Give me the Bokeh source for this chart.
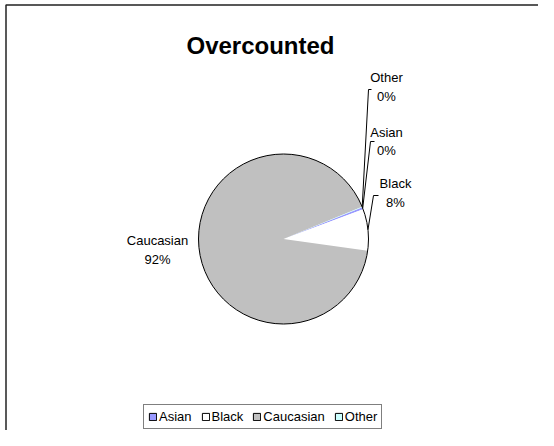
import numpy as np
from bokeh.plotting import figure
from bokeh.models import Range1d, Legend, LegendItem
from bokeh.core.properties import value
from bokeh.embed import file_html
from bokeh.resources import INLINE

# ---- data ----
title = "Overcounted"
categories = ["Asian", "Black", "Caucasian", "Other"]
shares = [0.4, 7.9, 91.6, 0.1]
colors = ["#9999FF", "#FFFFFF", "#C0C0C0", "#CCFFFF"]

FONT = "Liberation Sans"
W, H = 538, 430

p = figure(width=W, height=H, output_backend="svg", toolbar_location=None,
           x_range=Range1d(0, W), y_range=Range1d(0, H), min_border=0)
p.axis.visible = False
p.grid.visible = False
p.outline_line_color = None
p.background_fill_color = "white"
p.border_fill_color = "white"


def X(px):
    return px


def Y(py):
    return H - py


# chart area frame (left/top visible in reference)
p.line([X(5.5), X(5.5), W], [0, Y(4.5), Y(4.5)], line_color="#222222", line_width=1.5)

# ---- pie ----
cx, cy, r = X(283), Y(238.5), 85
start0 = np.deg2rad(22.0)
vals = np.array(shares, dtype=float)
ang = vals / vals.sum() * 2 * np.pi
ends = start0 - np.cumsum(ang)
starts = ends + ang
mids = (starts + ends) / 2

p.wedge(x=cx, y=cy, radius=r, radius_units="screen",
        start_angle=list(starts), end_angle=list(ends), direction="clock",
        fill_color=colors, line_color=None)
p.circle(x=[cx], y=[cy], radius=r, radius_units="screen",
         fill_color=None, line_color="black", line_width=1)

# ---- data labels ----
pct = [f"{round(v / vals.sum() * 100):.0f}%" for v in vals]
# label layout (px): center x, name line y, pct line y, leader tick (x0, y, x1)
label_layout = {
    "Other": (386, 77, 96, (371, 89, 368)),
    "Asian": (386, 132, 150, (374, 141, 370)),
    "Black": (395, 183, 202, (378, 195, 373)),
    "Caucasian": (157, 240, 259, None),
}
for i, cat in enumerate(categories):
    lx, ly1, ly2, tick = label_layout[cat]
    p.text(x=[X(lx), X(lx)], y=[Y(ly1), Y(ly2)], text=[cat, pct[i]],
           text_font=value(FONT), text_font_size="13px", text_color="black",
           text_align="center", text_baseline="middle")
    if tick is not None:
        tx0, ty, tx1 = tick
        ex = cx + r * np.cos(mids[i])
        ey = cy + r * np.sin(mids[i])
        p.line([X(tx0), X(tx1), ex], [Y(ty), Y(ty), ey], line_color="black", line_width=1)

# ---- title ----
p.text(x=[X(260)], y=[Y(45)], text=[title], text_font=value(FONT),
       text_font_size="24px", text_font_style="bold", text_color="black",
       text_align="center", text_baseline="alphabetic")

# ---- legend ----
items = []
for cat, c in zip(categories, colors):
    rr = p.rect(x=[np.nan], y=[np.nan], width=1, height=1,
                fill_color=c, line_color="black", line_width=1)
    items.append(LegendItem(label=cat, renderers=[rr]))
legend = Legend(items=items, orientation="horizontal", location=(X(143), 1),
                border_line_color="black", border_line_width=1, background_fill_color="white",
                background_fill_alpha=1.0, padding=4, spacing=9, margin=0,
                glyph_width=9, glyph_height=9, label_standoff=2, label_height=14,
                label_text_font=FONT, label_text_font_size="13px", label_text_color="black")
p.add_layout(legend, "center")

open("out.html", "w").write(file_html(p, INLINE))
